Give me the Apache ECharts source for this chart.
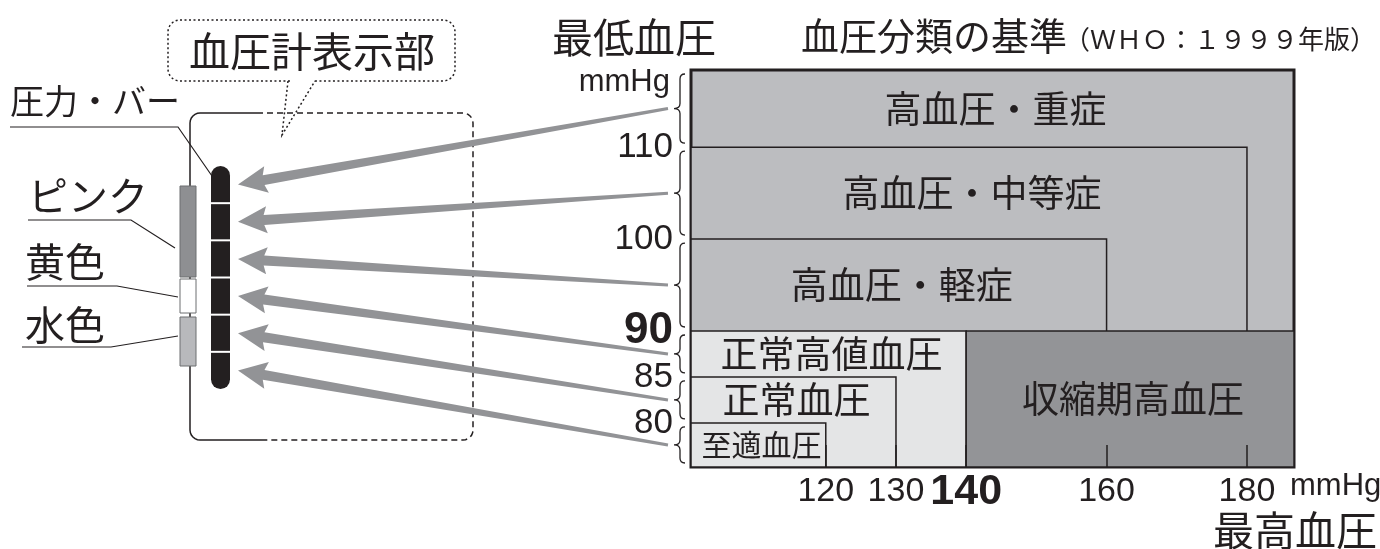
<!DOCTYPE html>
<html>
<head>
<meta charset="utf-8">
<style>html,body{margin:0;padding:0;background:#fff}#chart{width:1380px;height:549px}</style>
<script src="https://cdn.jsdelivr.net/npm/echarts@6/dist/echarts.min.js"></script>
</head>
<body>
<div id="chart"></div>
<script>
// WHO 1999 classification zones (systolic on x, diastolic on y)
var categories = ['高血圧・重症', '高血圧・中等症', '高血圧・軽症', '正常高値血圧', '正常血圧', '至適血圧', '収縮期高血圧'];
var sysFrom = [null, null, null, null, null, null, 140];   // null = from axis start
var sysTo = [null, 180, 160, 140, 130, 120, null];         // null = to axis end
var diaTo = [null, 110, 100, 90, 85, 80, 90];              // null = to axis end
var labelFloor = [110, 100, 90, 85, 80, null, null];       // lower edge of the band where the name sits
var kinds = ['high', 'high', 'high', 'normal', 'normal', 'normal', 'systolic'];

var sysTicks = [120, 130, 140, 160, 180];
var diaTicks = [110, 100, 90, 85, 80];
var boldTicks = [90, 140];
var markerLabels = ['圧力・バー', 'ピンク', '黄色', '水色'];

var X_MIN = 100.8, X_MAX = 186.7, Y_MIN = 75.2, Y_MAX = 118.4;

var INK = '#231f20';
var CJK = '"Noto Sans CJK JP", sans-serif';
var NUM = '"Liberation Sans Narrow", "Liberation Sans", sans-serif';
var FILL = { high: '#bcbdc0', normal: '#e4e5e6', systolic: '#939497' };
var ARROW = '#929396';
var BAR = { x: 211, top: 166, bottom: 389, w: 19 };

var zoneData = categories.map(function (c, i) {
  return [
    sysFrom[i] == null ? X_MIN : sysFrom[i],
    sysTo[i] == null ? X_MAX : sysTo[i],
    Y_MIN,
    diaTo[i] == null ? Y_MAX : diaTo[i],
    labelFloor[i] == null ? Y_MIN : labelFloor[i]
  ];
});

var braceUpper = [Y_MAX].concat(diaTicks);
var braceData = braceUpper.map(function (u, i) {
  return [u, i < diaTicks.length ? diaTicks[i] : Y_MIN];
});

function renderZone(params, api) {
  var i = params.dataIndex;
  var p0 = api.coord([api.value(0), api.value(3)]);
  var p1 = api.coord([api.value(1), api.value(2)]);
  var lf = api.coord([api.value(0), api.value(4)]);
  var w = p1[0] - p0[0];
  return {
    type: 'group',
    children: [
      {
        type: 'rect',
        shape: { x: p0[0], y: p0[1], width: w, height: p1[1] - p0[1] },
        style: { fill: FILL[kinds[i]], stroke: INK, lineWidth: i === 0 ? 3 : 1.5 }
      },
      {
        type: 'text',
        style: {
          text: categories[i],
          x: (p0[0] + p1[0]) / 2 + 3,
          y: (p0[1] + lf[1]) / 2,
          align: 'center',
          verticalAlign: 'middle',
          fill: INK,
          font: (w < 160 ? 30 : 37) + 'px ' + CJK
        }
      }
    ]
  };
}

function renderBrace(params, api) {
  var i = params.dataIndex;
  var top = api.coord([X_MIN, api.value(0)]);
  var bot = api.coord([X_MIN, api.value(1)]);
  var bx = top[0] - 11;
  var y0 = top[1] + 4, y1 = bot[1] - 4, ym = (y0 + y1) / 2;
  var d = 'M' + (bx + 5) + ',' + y0 + ' Q' + bx + ',' + y0 + ' ' + bx + ',' + (y0 + 5) +
    ' L' + bx + ',' + (ym - 5) + ' Q' + bx + ',' + ym + ' ' + (bx - 6) + ',' + ym +
    ' Q' + bx + ',' + ym + ' ' + bx + ',' + (ym + 5) +
    ' L' + bx + ',' + (y1 - 5) + ' Q' + bx + ',' + y1 + ' ' + (bx + 5) + ',' + y1;

  // arrow from the brace tip to the matching bar segment
  var seg = (BAR.bottom - BAR.top) / braceData.length;
  var tip = [BAR.x + BAR.w + 8, BAR.top + seg * (i + 0.5)];
  var tail = [bx - 12, ym];
  var dx = tail[0] - tip[0], dy = tail[1] - tip[1];
  var len = Math.sqrt(dx * dx + dy * dy);
  var ux = dx / len, uy = dy / len, nx = -uy, ny = ux;
  function pt(along, side) { return [tip[0] + ux * along + nx * side, tip[1] + uy * along + ny * side]; }
  var poly = [
    tip, pt(29, 13.5), pt(26, 5),
    [tail[0] + nx * 1.5, tail[1] + ny * 1.5], [tail[0] - nx * 1.5, tail[1] - ny * 1.5],
    pt(26, -5), pt(29, -13.5)
  ];
  return {
    type: 'group',
    children: [
      { type: 'polygon', shape: { points: poly }, style: { fill: ARROW, stroke: null } },
      { type: 'path', shape: { pathData: d }, style: { fill: 'none', stroke: INK, lineWidth: 1.3 } }
    ]
  };
}

function tickLabel(v) {
  return boldTicks.indexOf(v) >= 0 ? '{b|' + v + '}' : '{n|' + v + '}';
}

// rounded corner points for the device outline
function corner(cx, cy, r, a0, a1) {
  var pts = [];
  for (var k = 0; k <= 6; k++) {
    var a = a0 + (a1 - a0) * k / 6;
    pts.push([cx + r * Math.cos(a), cy + r * Math.sin(a)]);
  }
  return pts;
}
var PI = Math.PI;
var solidOutline = [[257, 113]].concat(corner(200, 123, 10, -PI / 2, -PI), corner(200, 430, 10, PI, PI / 2), [[265, 440]]);
var dashOutline = [[257, 113]].concat(corner(463, 123, 10, -PI / 2, 0), corner(463, 430, 10, 0, PI / 2), [[265, 440]]);

var graphics = [];
// speech bubble
graphics.push(
  { type: 'rect', shape: { x: 168, y: 20, width: 287, height: 61, r: 12 },
    style: { fill: '#fff', stroke: INK, lineWidth: 1.5, lineDash: [2, 2.5] } },
  { type: 'line', shape: { x1: 290, y1: 81, x2: 313, y2: 81 }, style: { stroke: '#fff', lineWidth: 3 } },
  { type: 'polyline', shape: { points: [[288, 81], [282, 135], [315, 81]] },
    style: { fill: null, stroke: INK, lineWidth: 1.5, lineDash: [2, 2.5] } },
  { type: 'text', style: { text: '血圧計表示部', x: 312, y: 51, align: 'center', verticalAlign: 'middle',
    fill: INK, font: '41px ' + CJK } }
);
// device outline
graphics.push(
  { type: 'polyline', shape: { points: solidOutline }, style: { fill: null, stroke: INK, lineWidth: 1.5 } },
  { type: 'polyline', shape: { points: dashOutline }, style: { fill: null, stroke: INK, lineWidth: 1.5, lineDash: [6, 4] } }
);
// colour strip
graphics.push(
  { type: 'rect', shape: { x: 180, y: 186, width: 16, height: 91 }, style: { fill: '#8e8f92', stroke: '#6d6e71', lineWidth: 1 } },
  { type: 'rect', shape: { x: 180, y: 279, width: 16, height: 34 }, style: { fill: '#ffffff', stroke: '#6d6e71', lineWidth: 1 } },
  { type: 'rect', shape: { x: 180, y: 317, width: 16, height: 49 }, style: { fill: '#b8b9bc', stroke: '#6d6e71', lineWidth: 1 } }
);
// pressure bar
graphics.push({ type: 'rect', shape: { x: BAR.x, y: BAR.top, width: BAR.w, height: BAR.bottom - BAR.top, r: BAR.w / 2 },
  style: { fill: INK } });
for (var s = 1; s < braceData.length; s++) {
  var sy = BAR.top + (BAR.bottom - BAR.top) / braceData.length * s;
  graphics.push({ type: 'line', shape: { x1: BAR.x, y1: sy, x2: BAR.x + BAR.w, y2: sy }, style: { stroke: '#fff', lineWidth: 2 } });
}
// marker labels with leader lines
var markerLayout = [
  { x: 10, y: 101, size: 34, lead: [[10, 127], [178, 127], [212, 176]] },
  { x: 28, y: 196, size: 40, lead: [[28, 220], [131, 220], [175, 248]] },
  { x: 25, y: 262, size: 40, lead: [[27, 286], [117, 286], [178, 297]] },
  { x: 25, y: 325, size: 40, lead: [[22, 347], [111, 347], [178, 336]] }
];
markerLabels.forEach(function (t, i) {
  var m = markerLayout[i];
  graphics.push(
    { type: 'text', style: { text: t, x: m.x, y: m.y, verticalAlign: 'middle', fill: INK, font: m.size + 'px ' + CJK } },
    { type: 'polyline', shape: { points: m.lead }, style: { fill: null, stroke: INK, lineWidth: 1.2 } }
  );
});
// titles and axis names
graphics.push(
  { type: 'text', style: { text: '最低血圧', x: 634, y: 37, align: 'center', verticalAlign: 'middle', fill: INK, font: '41px ' + CJK } },
  { type: 'text', style: { text: 'mmHg', x: 670, y: 82, align: 'right', verticalAlign: 'middle', fill: INK, font: '31px ' + NUM } },
  { type: 'text', style: { text: '血圧分類の基準', x: 801, y: 36, verticalAlign: 'middle', fill: INK, font: '38px ' + CJK } },
  { type: 'text', style: { text: '（ＷＨＯ：１９９９年版）', x: 1064, y: 39, verticalAlign: 'middle', fill: INK, font: '26px ' + CJK } },
  { type: 'text', style: { text: 'mmHg', x: 1290, y: 486, verticalAlign: 'middle', fill: INK, font: '31px ' + NUM } },
  { type: 'text', style: { text: '最高血圧', x: 1377, y: 530, align: 'right', verticalAlign: 'middle', fill: INK, font: '41px ' + CJK } }
);

var option = {
  animation: false,
  backgroundColor: '#fff',
  grid: { left: 691, right: 86, top: 70, bottom: 82, outerBoundsMode: 'none' },
  xAxis: {
    type: 'value', min: X_MIN, max: X_MAX, z: 5,
    axisLine: { show: false },
    axisTick: { show: true, inside: true, length: 22, customValues: sysTicks, lineStyle: { color: INK, width: 1.5 } },
    splitLine: { show: false },
    axisLabel: {
      customValues: sysTicks, margin: 25, verticalAlign: 'middle', formatter: tickLabel,
      rich: {
        n: { fontSize: 34, fontFamily: NUM, color: INK },
        b: { fontSize: 43, fontFamily: NUM, fontWeight: 'bold', color: INK }
      }
    }
  },
  yAxis: {
    type: 'value', min: Y_MIN, max: Y_MAX,
    axisLine: { show: false },
    axisTick: { show: false },
    splitLine: { show: false },
    axisLabel: {
      customValues: diaTicks, margin: 18, formatter: tickLabel,
      rich: {
        n: { fontSize: 35, fontFamily: NUM, color: INK },
        b: { fontSize: 44, fontFamily: NUM, fontWeight: 'bold', color: INK }
      }
    }
  },
  graphic: { elements: graphics },
  series: [
    { type: 'custom', renderItem: renderZone, data: zoneData, silent: true },
    { type: 'custom', renderItem: renderBrace, data: braceData, silent: true, clip: false }
  ]
};

var chart = echarts.init(document.getElementById('chart'));
chart.setOption(option);
</script>
</body>
</html>
